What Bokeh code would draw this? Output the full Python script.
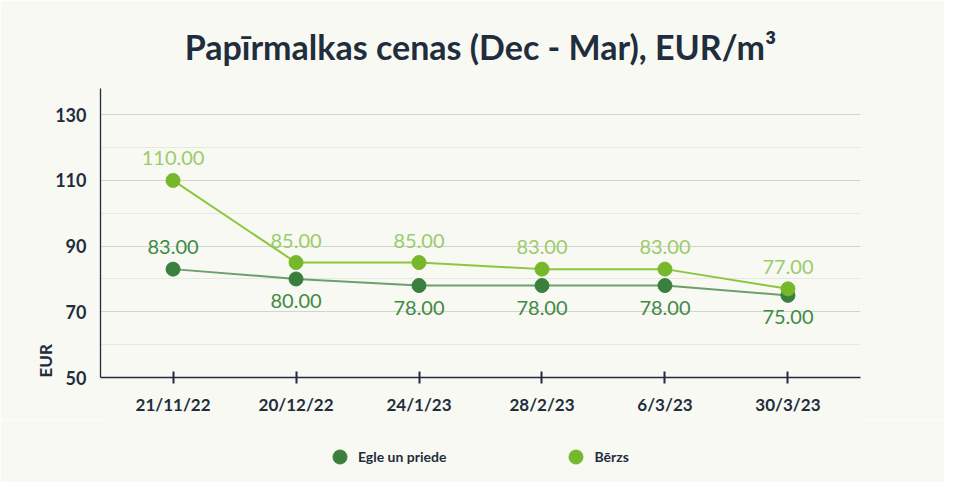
from bokeh.plotting import figure
from bokeh.layouts import column
from bokeh.models import ColumnDataSource, Legend, LegendItem, Title, FixedTicker, FactorRange, Range1d
from bokeh.core.properties import value
from bokeh.embed import file_html
from bokeh.resources import INLINE

dates = ["21/11/22", "20/12/22", "24/1/23", "28/2/23", "6/3/23", "30/3/23"]
egle = [83.0, 80.0, 78.0, 78.0, 78.0, 75.0]
berzs = [110.0, 85.0, 85.0, 83.0, 83.0, 77.0]
y_ticks = [50, 70, 90, 110, 130]
series_names = ["Egle un priede", "Bērzs"]
title_text = "Papīrmalkas cenas (Dec - Mar), EUR/m³"
y_label = "EUR"

BG = "#f8f9f3"
DARK = "#1f2d3d"
FONT = "Lato"

EGLE_MARK, EGLE_LINE, EGLE_TEXT = "#3b7f3f", "#6c9f6c", "#3f8a45"
BERZS_MARK, BERZS_LINE, BERZS_TEXT = "#76b82a", "#8cc63f", "#9bcb6b"

p = figure(width=944, height=420, output_backend="svg", toolbar_location=None,
           x_range=FactorRange(*dates, range_padding=0.03, range_padding_units="percent"),
           y_range=Range1d(50, 138),
           background_fill_color=BG, border_fill_color=BG,
           min_border_left=100, min_border_right=84, min_border_top=88, min_border_bottom=43)
p.outline_line_color = None

p.title.text = title_text
p.title.align = "center"
p.title.text_font = FONT
p.title.text_font_size = "34px"
p.title.text_font_style = "bold"
p.title.text_color = DARK
p.title.standoff = 43

# grid
p.xgrid.grid_line_color = None
p.ygrid.ticker = FixedTicker(ticks=y_ticks, minor_ticks=[60, 80, 100, 120])
p.ygrid.grid_line_color = "#d2d4cf"
p.ygrid.grid_line_width = 1
p.ygrid.minor_grid_line_color = "#e6e8e2"

# axes
p.yaxis.ticker = FixedTicker(ticks=y_ticks)
p.yaxis.major_tick_line_color = None
p.yaxis.minor_tick_line_color = None
p.yaxis.axis_line_color = DARK
p.yaxis.axis_line_width = 1.3
p.yaxis.major_label_text_font = FONT
p.yaxis.major_label_text_font_style = "bold"
p.yaxis.major_label_text_font_size = "18px"
p.yaxis.major_label_text_color = DARK
p.yaxis.major_label_standoff = 8

p.xaxis.axis_line_color = DARK
p.xaxis.axis_line_width = 1.3
p.xaxis.major_tick_line_color = DARK
p.xaxis.major_tick_line_width = 2
p.xaxis.major_tick_in = 6
p.xaxis.major_tick_out = 6
p.xaxis.major_label_text_font = FONT
p.xaxis.major_label_text_font_style = "bold"
p.xaxis.major_label_text_font_size = "17px"
p.xaxis.major_label_text_color = DARK
p.xaxis.major_label_standoff = 10

# y label placed at the bottom of the left side
ylab = Title(text=y_label, align="left", text_font=FONT, text_font_style="bold",
             text_font_size="17px", text_color=DARK, standoff=-6)
p.add_layout(ylab, "left")

# lines and points
p.line(dates, egle, line_color=EGLE_LINE, line_width=2)
p.line(dates, berzs, line_color=BERZS_LINE, line_width=2)
p.scatter(dates, egle, size=14, fill_color=EGLE_MARK, line_color=EGLE_MARK)
p.scatter(dates, berzs, size=14, fill_color=BERZS_MARK, line_color=BERZS_MARK)

# data labels
e_off = [(-22 if (b - e) > 15 else 22) for e, b in zip(egle, berzs)]
b_off = [-22 for _ in berzs]
esrc = ColumnDataSource(dict(x=dates, y=egle, t=[f"{v:.2f}" for v in egle], off=e_off))
bsrc = ColumnDataSource(dict(x=dates, y=berzs, t=[f"{v:.2f}" for v in berzs], off=b_off))
for src, col in ((esrc, EGLE_TEXT), (bsrc, BERZS_TEXT)):
    p.text(x="x", y="y", text="t", source=src, y_offset="off",
           text_font=value(FONT), text_font_size="20px", text_color=col,
           text_align="center", text_baseline="middle")

# legend strip below the chart
lg = figure(width=944, height=62, output_backend="svg", toolbar_location=None,
            x_range=Range1d(0, 1), y_range=Range1d(0, 1),
            background_fill_color=BG, border_fill_color=BG,
            min_border_left=100, min_border_right=84, min_border_top=0, min_border_bottom=0)
lg.outline_line_color = None
lg.axis.visible = False
lg.grid.visible = False
# legend proxies (kept outside the visible range)
le = lg.scatter(x=[-5], y=[-5], size=14, fill_color=EGLE_MARK, line_color=EGLE_MARK)
lb = lg.scatter(x=[-5], y=[-5], size=14, fill_color=BERZS_MARK, line_color=BERZS_MARK)
legend = Legend(items=[LegendItem(label=series_names[0], renderers=[le]),
                       LegendItem(label=series_names[1], renderers=[lb])],
                orientation="horizontal", location=(222, 8),
                spacing=112, margin=0, padding=0, glyph_width=35, glyph_height=35,
                label_standoff=1,
                label_text_font=FONT, label_text_font_style="bold",
                label_text_font_size="14px", label_text_color=DARK,
                background_fill_alpha=0, border_line_color=None)
lg.add_layout(legend)

layout = column(p, lg, spacing=0)
open("out.html", "w").write(file_html(layout, INLINE))
